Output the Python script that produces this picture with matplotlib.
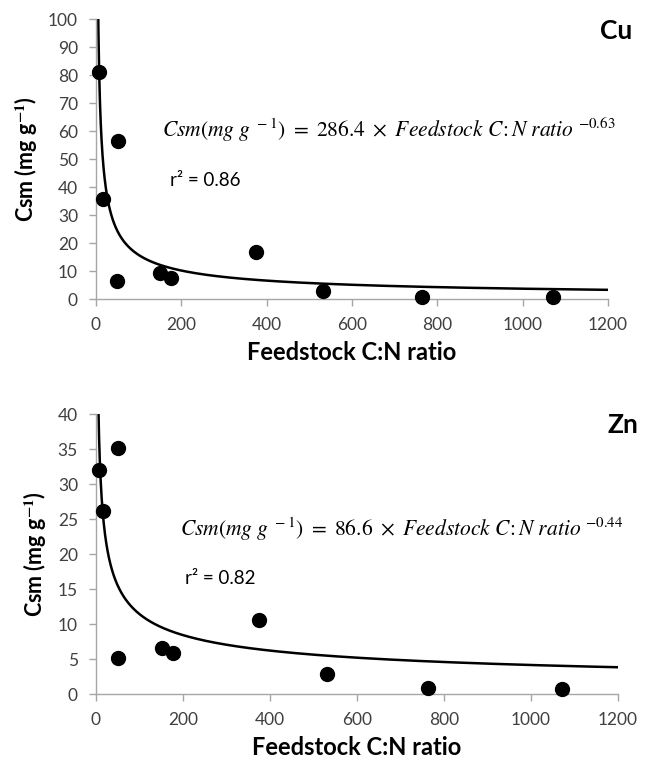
import numpy as np
import matplotlib
matplotlib.use("Agg")
import matplotlib.pyplot as plt

plt.rcParams['font.family'] = ['Lato', 'DejaVu Sans']
plt.rcParams['mathtext.fontset'] = 'stix'

# data
cn_ratio = [7, 17, 51, 50, 151, 176, 374, 531, 764, 1071]
cu_csm = [81.2, 35.8, 56.4, 6.3, 9.2, 7.5, 16.7, 3.0, 0.9, 0.8]
zn_csm = [32.0, 26.1, 35.2, 5.2, 6.6, 5.9, 10.6, 2.9, 0.9, 0.7]

cu_fit = (286.4, -0.63)
zn_fit = (86.6, -0.44)

x_ticks = [0, 200, 400, 600, 800, 1000, 1200]
cu_yticks = list(range(0, 101, 10))
zn_yticks = list(range(0, 41, 5))

fig = plt.figure(figsize=(6.46, 7.58), dpi=100)

ax1 = fig.add_axes([0.1486, 0.6055, 0.7926, 0.3694])
ax2 = fig.add_axes([0.1486, 0.0844, 0.8081, 0.3694])

spine_col = '#a6a6a6'
tick_col = '#404040'

def style(ax, yticks, ymax):
    ax.set_xlim(0, 1200)
    ax.set_ylim(0, ymax)
    ax.set_xticks(x_ticks)
    ax.set_yticks(yticks)
    for s in ['top', 'right']:
        ax.spines[s].set_visible(False)
    for s in ['left', 'bottom']:
        ax.spines[s].set_color(spine_col)
        ax.spines[s].set_linewidth(1.0)
    ax.tick_params(axis='both', direction='out', length=5, width=1.0,
                   color=spine_col, labelcolor=tick_col, labelsize=12.5, pad=8)
    ax.set_xlabel('Feedstock C:N ratio', fontsize=17, fontweight='bold', labelpad=6)
    ax.set_ylabel('Csm (mg g$^{\\mathbf{-1}}$)', fontsize=15.5, fontweight='bold', labelpad=6)

def draw(ax, y, fit, ymax):
    a, b = fit
    xs = np.linspace(4, 1200, 2000)
    ax.plot(xs, a * xs ** b, color='black', lw=1.8, zorder=2)
    ax.plot(cn_ratio, y, 'o', color='black', ms=10, zorder=3, clip_on=False)

style(ax1, cu_yticks, 100)
draw(ax1, cu_csm, cu_fit, 100)
style(ax2, zn_yticks, 40)
draw(ax2, zn_csm, zn_fit, 40)

fig.text(600 / 646, 1 - 31 / 758, 'Cu', fontsize=19, fontweight='bold', va='center', ha='left')
fig.text(608 / 646, 1 - 425 / 758, 'Zn', fontsize=19, fontweight='bold', va='center', ha='left')

fig.text(162 / 646, 1 - 130 / 758,
         r'$Csm(mg\ g^{\ -1})\ =\ 286.4\ \times\ Feedstock\ C\!:N\ ratio\ ^{-0.63}$',
         fontsize=15.5, va='center', ha='left')
fig.text(170 / 646, 1 - 180 / 758, 'r² = 0.86', fontsize=13.5, va='center', ha='left')

fig.text(180 / 646, 1 - 529 / 758,
         r'$Csm(mg\ g^{\ -1})\ =\ 86.6\ \times\ Feedstock\ C\!:N\ ratio\ ^{-0.44}$',
         fontsize=15.5, va='center', ha='left')
fig.text(185 / 646, 1 - 579 / 758, 'r² = 0.82', fontsize=13.5, va='center', ha='left')

fig.savefig('out.png', dpi=100)
